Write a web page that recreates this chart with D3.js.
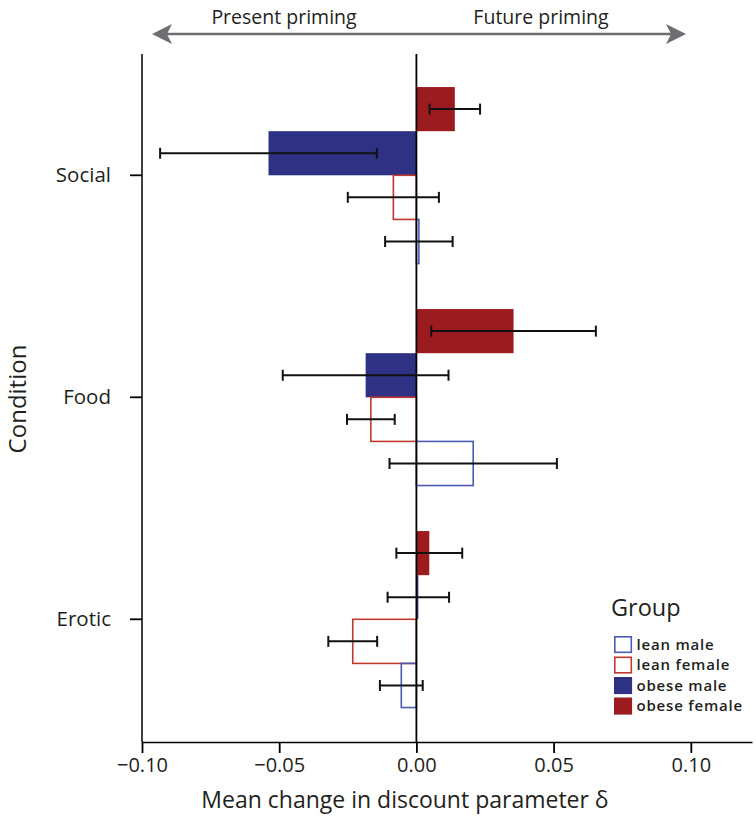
<!DOCTYPE html>
<html><head><meta charset="utf-8">
<script src="https://cdn.jsdelivr.net/npm/d3@7"></script>
<style>body{margin:0;background:#fff}svg{display:block}text{font-family:"Open Sans",sans-serif;fill:#231f20}</style>
</head><body><svg id="c" width="756" height="818"></svg>
<script>
const categories = ["Social", "Food", "Erotic"];
const groups = ["obese female", "obese male", "lean female", "lean male"];
const legendOrder = ["lean male", "lean female", "obese male", "obese female"];
const meanObeseFemale = [0.0140, 0.0354, 0.0047];
const errObeseFemale  = [0.0092, 0.0300, 0.0120];
const meanObeseMale   = [-0.0539, -0.0185, 0.0007];
const errObeseMale    = [0.0395, 0.0302, 0.0112];
const meanLeanFemale  = [-0.0084, -0.0166, -0.0232];
const errLeanFemale   = [0.0166, 0.0087, 0.0089];
const meanLeanMale    = [0.0009, 0.0207, -0.0055];
const errLeanMale     = [0.0123, 0.0305, 0.0078];
const xTicks = [-0.10, -0.05, 0.00, 0.05, 0.10];

const means = {"obese female": meanObeseFemale, "obese male": meanObeseMale, "lean female": meanLeanFemale, "lean male": meanLeanMale};
const errs  = {"obese female": errObeseFemale, "obese male": errObeseMale, "lean female": errLeanFemale, "lean male": errLeanMale};
const style = {
  "obese female": {fill: "#9b1b1f", stroke: "#9b1b1f"},
  "obese male":   {fill: "#2f3185", stroke: "#2f3185"},
  "lean female":  {fill: "none", stroke: "#c0392f"},
  "lean male":    {fill: "none", stroke: "#4a5ab0"}
};

const svg = d3.select("#c");
const axisY = 742, axisTop = 54, xLeft = 142, xRight = 752;
const x = d3.scaleLinear().domain([-0.10, 0.1223]).range([xLeft, xRight]);
const y = d3.scaleBand().domain(categories).range([64.3, 730.3]).paddingInner(0.205).paddingOuter(0.1025);
const ySub = d3.scaleBand().domain(groups).range([0, y.bandwidth()]);

const rows = [];
categories.forEach((c, i) => groups.forEach(g => rows.push({c, g, v: means[g][i], e: errs[g][i]})));

// bars
svg.append("g").selectAll("rect").data(rows).join("rect")
  .attr("x", d => Math.min(x(0), x(d.v)))
  .attr("y", d => y(d.c) + ySub(d.g))
  .attr("width", d => Math.abs(x(d.v) - x(0)))
  .attr("height", ySub.bandwidth())
  .attr("fill", d => style[d.g].fill)
  .attr("stroke", d => style[d.g].stroke)
  .attr("stroke-width", d => style[d.g].fill === "none" ? 1.6 : 0);

// zero line
svg.append("line").attr("x1", x(0)).attr("x2", x(0)).attr("y1", axisTop).attr("y2", axisY)
  .attr("stroke", "#000").attr("stroke-width", 1.8);

// error bars
const eb = svg.append("g").attr("stroke", "#111").attr("stroke-width", 2);
rows.forEach(d => {
  const cy = y(d.c) + ySub(d.g) + ySub.bandwidth() / 2;
  eb.append("line").attr("x1", x(d.v - d.e)).attr("x2", x(d.v + d.e)).attr("y1", cy).attr("y2", cy);
  [d.v - d.e, d.v + d.e].forEach(t => eb.append("line").attr("x1", x(t)).attr("x2", x(t)).attr("y1", cy - 5.5).attr("y2", cy + 5.5));
});

// bottom axis
const gx = svg.append("g").attr("transform", `translate(0,${axisY})`)
  .call(d3.axisBottom(x).tickValues(xTicks).tickFormat(d3.format(".2f")).tickSize(11).tickSizeOuter(0).tickPadding(5));
gx.select(".domain").attr("stroke", "#000").attr("stroke-width", 1.5);
gx.selectAll(".tick line").attr("stroke", "#000").attr("stroke-width", 1.8);
gx.selectAll(".tick text").style("font-size", "20px").attr("fill", "#231f20").style("font-family", "'Open Sans',sans-serif");

// left axis
svg.append("line").attr("x1", xLeft).attr("x2", xLeft).attr("y1", axisTop).attr("y2", axisY).attr("stroke", "#000").attr("stroke-width", 1.5);
const gy = svg.append("g").attr("transform", `translate(${xLeft},0)`)
  .call(d3.axisLeft(y).tickSize(12).tickPadding(19));
gy.select(".domain").remove();
gy.selectAll(".tick line").attr("stroke", "#000").attr("stroke-width", 1.8);
gy.selectAll(".tick text").style("font-size", "20.5px").attr("fill", "#231f20").style("font-family", "'Open Sans',sans-serif");

// axis titles
svg.append("text").attr("x", 405).attr("y", 808).attr("text-anchor", "middle").style("font-size", "23px")
  .text("Mean change in discount parameter δ");
svg.append("text").attr("transform", "translate(26,399) rotate(-90)").attr("text-anchor", "middle").style("font-size", "24px")
  .text("Condition");

// top arrow
const ay = 34;
svg.append("line").attr("x1", 160).attr("x2", 678).attr("y1", ay).attr("y2", ay).attr("stroke", "#6d6e71").attr("stroke-width", 2.5);
svg.append("path").attr("d", `M152,${ay} L172,${ay-10} L167,${ay} L172,${ay+10} Z`).attr("fill", "#6d6e71");
svg.append("path").attr("d", `M686,${ay} L666,${ay-10} L671,${ay} L666,${ay+10} Z`).attr("fill", "#6d6e71");
svg.append("text").attr("x", 284).attr("y", 24).attr("text-anchor", "middle").style("font-size", "19.5px").text("Present priming");
svg.append("text").attr("x", 541).attr("y", 24).attr("text-anchor", "middle").style("font-size", "19.5px").text("Future priming");

// legend
svg.append("text").attr("x", 611).attr("y", 616).style("font-size", "23.5px").text("Group");
const lg = svg.append("g").selectAll("g").data(legendOrder).join("g")
  .attr("transform", (d, i) => `translate(614,${636 + i * 20.5})`);
lg.append("rect").attr("x", 0.8).attr("y", 0.8).attr("width", 16.5).attr("height", 15.5)
  .attr("fill", d => style[d].fill === "none" ? "#fff" : style[d].fill)
  .attr("stroke", d => style[d].stroke).attr("stroke-width", 1.6);
lg.append("text").attr("x", 22.5).attr("y", 13.5).style("font-size", "15px").style("font-weight", "600")
  .style("letter-spacing", "0.8px").text(d => d);
</script></body></html>
